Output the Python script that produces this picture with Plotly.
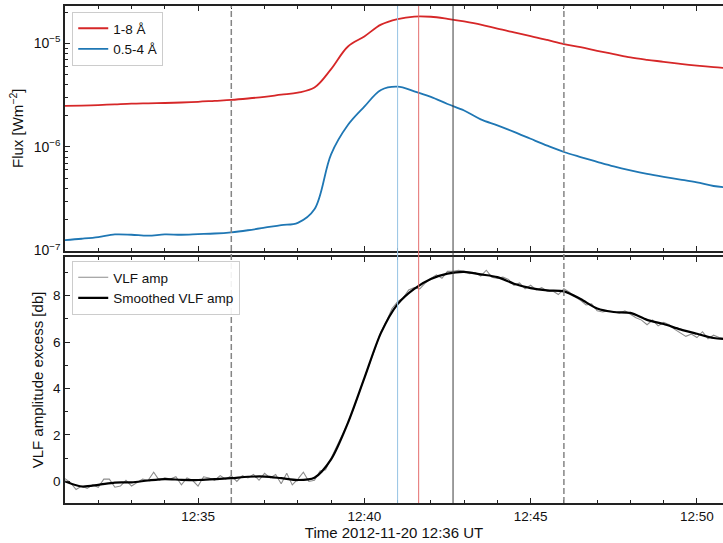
import numpy as np
import pandas as pd
import plotly.graph_objects as go
from plotly.subplots import make_subplots

# ---------------- data ----------------
goes_times = pd.date_range("2012-11-20 12:31:00", "2012-11-20 12:51:00", freq="30s")
flux_long = [2.49e-6, 2.51e-6, 2.54e-6, 2.58e-6, 2.62e-6, 2.64e-6, 2.66e-6, 2.69e-6,
             2.73e-6, 2.79e-6, 2.85e-6, 2.94e-6, 3.05e-6, 3.20e-6, 3.35e-6, 3.75e-6,
             5.65e-6, 9.3e-6, 1.17e-5, 1.52e-5, 1.72e-5, 1.82e-5, 1.81e-5, 1.73e-5,
             1.63e-5, 1.52e-5, 1.39e-5, 1.28e-5, 1.18e-5, 1.08e-5, 9.85e-6, 9.2e-6,
             8.5e-6, 7.9e-6, 7.33e-6, 6.95e-6, 6.65e-6, 6.35e-6, 6.1e-6, 5.9e-6, 5.75e-6]
flux_short = [1.26e-7, 1.30e-7, 1.35e-7, 1.43e-7, 1.42e-7, 1.39e-7, 1.43e-7, 1.42e-7,
              1.44e-7, 1.46e-7, 1.50e-7, 1.57e-7, 1.66e-7, 1.76e-7, 1.85e-7, 2.5e-7,
              8.5e-7, 1.62e-6, 2.45e-6, 3.55e-6, 3.82e-6, 3.45e-6, 3.05e-6, 2.6e-6,
              2.25e-6, 1.85e-6, 1.62e-6, 1.40e-6, 1.20e-6, 1.03e-6, 8.95e-7, 8.0e-7,
              7.2e-7, 6.5e-7, 5.95e-7, 5.5e-7, 5.15e-7, 4.85e-7, 4.55e-7, 4.2e-7, 4.05e-7]

vlf_raw = [0.12, -0.05, -0.35, -0.2, -0.3, -0.15, -0.25, 0.1, 0.1, -0.25, -0.2, 0.05,
           -0.2, -0.05, 0.1, 0.05, 0.4, 0.05, 0.15, 0.1, 0.2, -0.15, 0.15, 0.05,
           -0.2, 0.2, 0.15, 0.05, 0.25, 0.1, 0.25, 0.0, 0.25, 0.15, 0.3, 0.05,
           0.35, 0.15, 0.3, -0.1, 0.35, -0.15, 0.1, 0.4, 0.0, 0.05, 0.45, 0.5,
           1.0, 1.45, 2.0, 2.5, 3.1, 3.8, 4.45, 5.1, 5.8, 6.45, 6.9, 7.45,
           7.75, 7.9, 8.25, 8.35, 8.3, 8.55, 8.75, 8.9, 8.75, 9.05, 9.05, 9.1,
           9.05, 8.95, 9.0, 8.85, 9.1, 8.8, 8.75, 8.8, 8.7, 8.45, 8.55, 8.3,
           8.45, 8.25, 8.35, 8.2, 8.2, 8.05, 8.3, 8.15, 7.95, 7.8, 7.6, 7.65,
           7.35, 7.3, 7.35, 7.3, 7.25, 7.35, 7.2, 7.05, 6.95, 6.75, 6.95, 6.7,
           6.85, 6.75, 6.55, 6.4, 6.25, 6.35, 6.2, 6.45, 6.15, 6.3, 6.2, 6.15]
vlf_times = pd.date_range("2012-11-20 12:31:00", periods=len(vlf_raw), freq="10s")

smooth_times = pd.date_range("2012-11-20 12:31:00", "2012-11-20 12:51:00", freq="30s")
vlf_smooth = [0.0, -0.22, -0.15, -0.05, -0.04, 0.04, 0.1, 0.07, 0.06, 0.1, 0.14, 0.2,
              0.21, 0.14, 0.06, 0.16, 0.95, 2.5, 4.45, 6.4, 7.64, 8.3, 8.72, 8.95,
              9.03, 8.92, 8.8, 8.52, 8.33, 8.23, 8.19, 7.86, 7.45, 7.3, 7.26, 6.96,
              6.78, 6.55, 6.36, 6.18, 6.12]

dashed_times = ["2012-11-20 12:36:00", "2012-11-20 12:46:00"]
event_times = ["2012-11-20 12:41:00", "2012-11-20 12:41:38", "2012-11-20 12:42:40"]
event_colors = ["rgb(150,195,228)", "rgb(228,110,110)", "rgb(60,60,60)"]

x_range = ["2012-11-20 12:31:00", "2012-11-20 12:50:47"]
flux_ticks = [1e-7, 1e-6, 1e-5]
flux_ticktext = ["10<sup>−7</sup>", "10<sup>−6</sup>", "10<sup>−5</sup>"]
flux_minor = [m * 10.0 ** e for e in (-7, -6, -5) for m in range(2, 10) if m * 10.0 ** e < 2.3e-5]
vlf_ticks = [0, 2, 4, 6, 8]

# ---------------- figure ----------------
FONT = "Liberation Sans, Arial, Helvetica, sans-serif"
fig = make_subplots(rows=2, cols=1, shared_xaxes=False, vertical_spacing=0.0)

fig.add_trace(go.Scatter(x=goes_times, y=flux_long, mode="lines", name="1-8 Å",
                         line=dict(color="#d62728", width=1.8, shape="spline"),
                         legend="legend"), row=1, col=1)
fig.add_trace(go.Scatter(x=goes_times, y=flux_short, mode="lines", name="0.5-4 Å",
                         line=dict(color="#1f77b4", width=1.8, shape="spline"),
                         legend="legend"), row=1, col=1)
fig.add_trace(go.Scatter(x=vlf_times, y=vlf_raw, mode="lines", name="VLF amp",
                         line=dict(color="#8c8c8c", width=1.1),
                         legend="legend2"), row=2, col=1)
fig.add_trace(go.Scatter(x=smooth_times, y=vlf_smooth, mode="lines", name="Smoothed VLF amp",
                         line=dict(color="black", width=2.2, shape="spline", smoothing=0.8),
                         legend="legend2"), row=2, col=1)

top_dom = [0.508, 1.0]
bot_dom = [0.0, 0.495]

xcommon = dict(type="date", range=x_range, showline=True, linecolor="#222", linewidth=1.5,
               mirror="allticks", ticks="inside", ticklen=5, tickwidth=1.2, tickcolor="#222",
               dtick=300000, tick0="2012-11-20 12:35:00", tickformat="%H:%M",
               minor=dict(ticks="inside", dtick=60000, ticklen=3, tickwidth=1, tickcolor="#222"),
               showgrid=False, zeroline=False)
fig.update_layout(
    xaxis=dict(**xcommon, domain=[0, 1], showticklabels=False, matches="x2", anchor="y"),
    xaxis2=dict(**xcommon, domain=[0, 1], showticklabels=True, anchor="y2",
                title=dict(text="Time 2012-11-20 12:36 UT", font=dict(size=15), standoff=4),
                tickfont=dict(size=13.5)),
    yaxis=dict(type="log", domain=top_dom, range=[-7, np.log10(2.3e-5)],
               tickmode="array", tickvals=flux_ticks, ticktext=flux_ticktext,
               showline=True, linecolor="#222", linewidth=1.5, ticks="inside", ticklen=5,
               tickwidth=1.2, tickcolor="#222", tickfont=dict(size=14),
               minor=dict(ticks="inside", tickmode="array", tickvals=flux_minor, ticklen=3,
                          tickwidth=1, tickcolor="#222"),
               showgrid=False, zeroline=False,
               title=dict(text="Flux [Wm<sup>−2</sup>]", font=dict(size=15), standoff=6)),
    yaxis2=dict(domain=bot_dom, range=[-0.93, 9.67], tickmode="array", tickvals=vlf_ticks,
                showline=True, linecolor="#222", linewidth=1.5, ticks="inside", ticklen=5,
                tickwidth=1.2, tickcolor="#222", tickfont=dict(size=13.5),
                minor=dict(ticks="inside", dtick=1, tick0=1, ticklen=3, tickwidth=1, tickcolor="#222"),
                showgrid=False, zeroline=False,
                title=dict(text="VLF amplitude excess [db]", font=dict(size=15), standoff=6)),
)

# vertical marker lines
for t in dashed_times:
    fig.add_shape(type="line", xref="x2", yref="paper", x0=t, x1=t, y0=0, y1=1,
                  line=dict(color="#858585", width=1.5, dash="6px,3px"), layer="above")
for t, c in zip(event_times, event_colors):
    fig.add_shape(type="line", xref="x2", yref="paper", x0=t, x1=t, y0=0, y1=1,
                  line=dict(color=c, width=1), layer="above")

fig.update_layout(
    width=723, height=543,
    margin=dict(l=65, r=0, t=6, b=40),
    paper_bgcolor="white", plot_bgcolor="white",
    font=dict(family=FONT, size=13, color="#111"),
    showlegend=True,
    legend=dict(x=0.011, y=0.988, xanchor="left", yanchor="top", bgcolor="rgba(255,255,255,0.9)",
                bordercolor="#ccc", borderwidth=1, font=dict(size=13.5), tracegroupgap=0,
                itemwidth=30),
    legend2=dict(x=0.011, y=0.487, xanchor="left", yanchor="top", bgcolor="rgba(255,255,255,0.9)",
                 bordercolor="#ccc", borderwidth=1, font=dict(size=13.5), tracegroupgap=0,
                 itemwidth=30),
)

fig.write_html("out.html")
